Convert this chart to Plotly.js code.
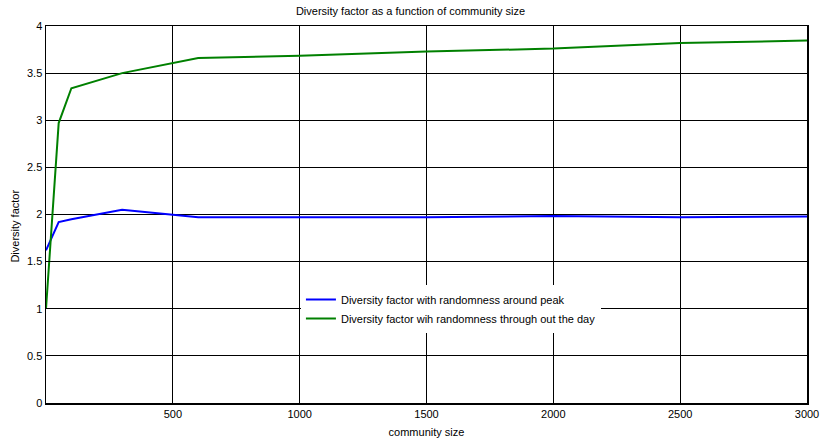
<!DOCTYPE html>
<html>
<head>
<meta charset="utf-8">
<script src="https://cdn.plot.ly/plotly-3.0.1.min.js"></script>
<style>html,body{margin:0;padding:0;background:#fff;}#chart{width:821px;height:444px;}</style>
</head>
<body>
<div id="chart"></div>
<script>
// Community sizes sampled
const communitySize = [0, 50, 100, 300, 600, 1000, 1500, 2000, 2500, 3000];
// Diversity factor, randomness around the peak
const dfPeak = [1.62, 1.92, 1.95, 2.05, 1.97, 1.97, 1.97, 1.985, 1.97, 1.98];
// Diversity factor, randomness through the whole day
const dfDay = [1.0, 2.97, 3.34, 3.50, 3.66, 3.685, 3.73, 3.76, 3.82, 3.845];
const xTicks = [500, 1000, 1500, 2000, 2500, 3000];
const yTicks = [0, 0.5, 1, 1.5, 2, 2.5, 3, 3.5, 4];

const FONT = "'Liberation Sans', Arial, sans-serif";
const FS = 11;

const traces = [
  {x: communitySize, y: dfPeak, mode: 'lines', name: 'Diversity factor with randomness around peak',
   line: {color: '#0000ff', width: 2}},
  {x: communitySize, y: dfDay, mode: 'lines', name: 'Diversity factor wih randomness through out the day',
   line: {color: '#008000', width: 2}}
];

const axisCommon = {
  showline: true, mirror: 'ticks', linecolor: '#000', linewidth: 1.5,
  showgrid: true, gridcolor: '#000', gridwidth: 1, zeroline: false,
  ticks: 'inside', ticklen: 4, tickcolor: '#000',
  tickfont: {family: FONT, size: FS, color: '#000'}
};

const layout = {
  width: 821, height: 444,
  margin: {l: 46, r: 14, t: 26, b: 41},
  paper_bgcolor: '#fff', plot_bgcolor: '#fff',
  font: {family: FONT, size: FS, color: '#000'},
  title: {text: 'Diversity factor as a function of community size', x: 0.5, xanchor: 'center', y: 0.975, yanchor: 'middle',
          font: {family: FONT, size: FS, color: '#000'}},
  xaxis: Object.assign({}, axisCommon, {
    range: [0, 3000], tickvals: xTicks, ticktext: xTicks.map(String),
    title: {text: 'community size', font: {family: FONT, size: FS}, standoff: 9}
  }),
  yaxis: Object.assign({}, axisCommon, {
    range: [0, 4], tickvals: yTicks, ticktext: yTicks.map(String)
  }),
  annotations: [{
    text: 'Diversity factor', textangle: -90, showarrow: false,
    xref: 'paper', yref: 'paper', x: -0.041, y: 0.47, xanchor: 'center', yanchor: 'middle',
    font: {family: FONT, size: FS, color: '#000'}
  }],
  showlegend: true,
  legend: {x: 0.335, y: 0.313, xanchor: 'left', yanchor: 'top',
           bgcolor: '#fff', borderwidth: 0,
           font: {family: FONT, size: FS, color: '#000'}, tracegroupgap: 0, itemwidth: 30}
};

Plotly.newPlot('chart', traces, layout, {displayModeBar: false, staticPlot: true});
</script>
</body>
</html>
